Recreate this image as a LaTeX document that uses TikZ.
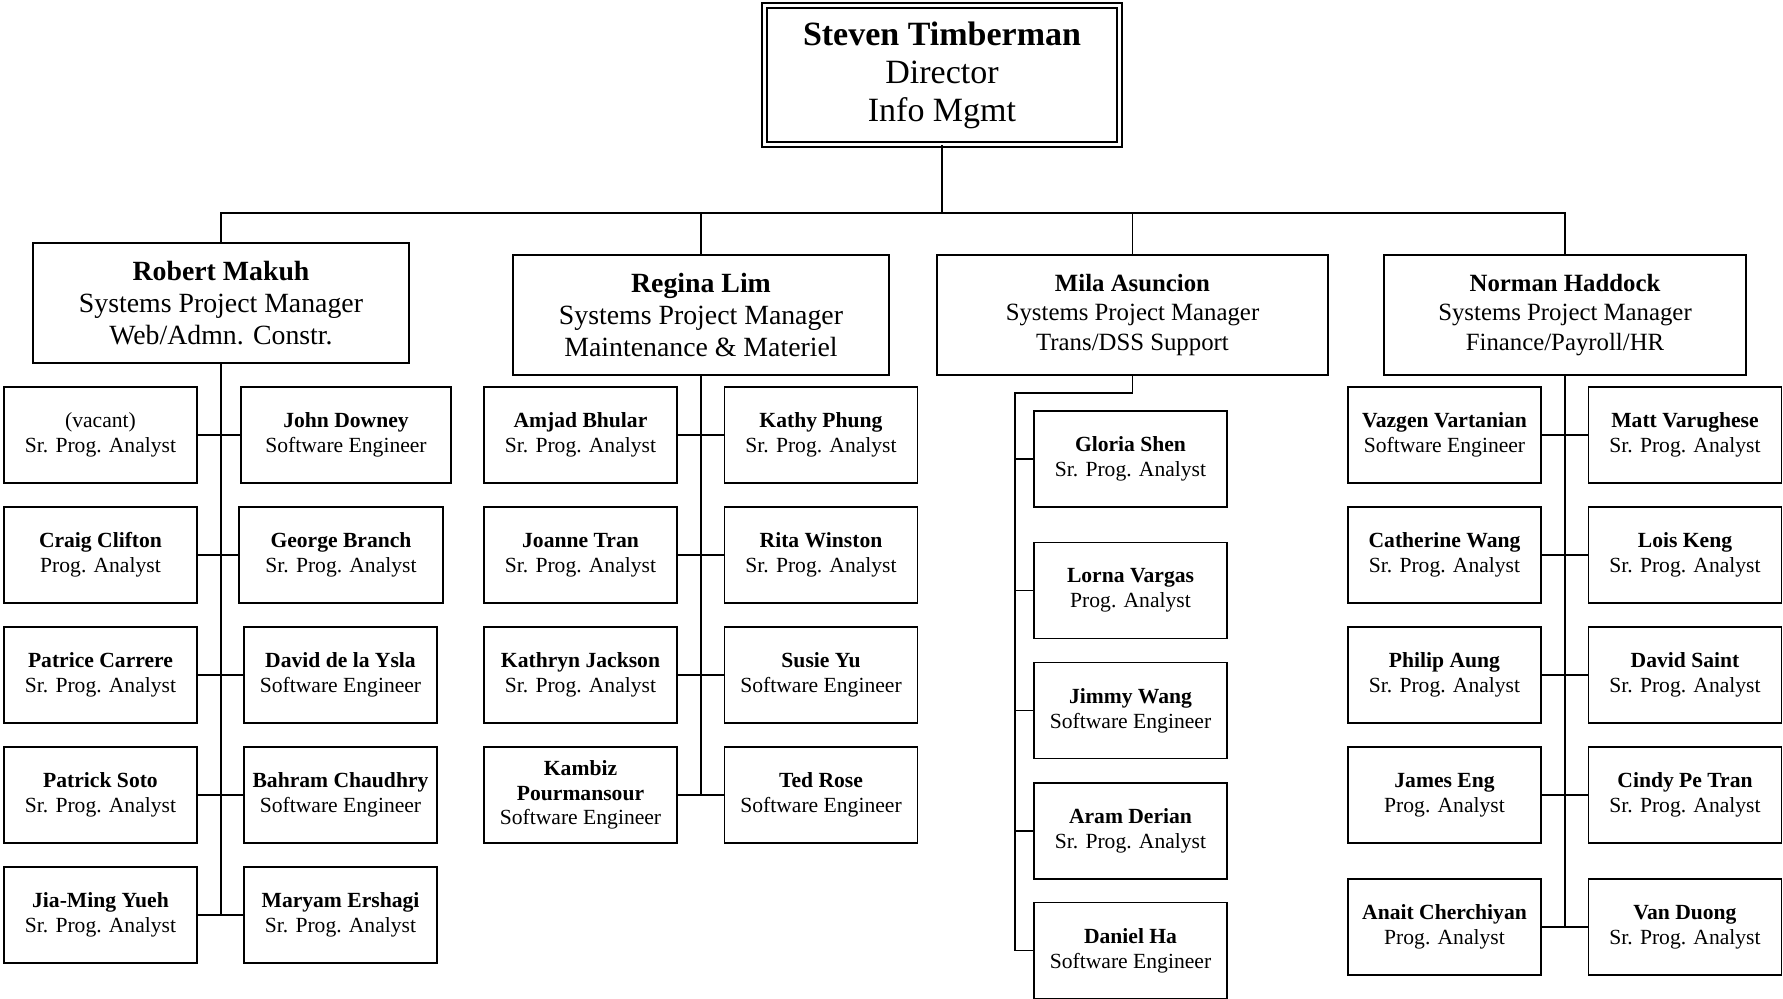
\documentclass[tikz,border=0pt]{standalone}
\usepackage{fontspec}
\setmainfont{Liberation Serif}
\usepackage{tikz}
\usetikzlibrary{positioning}

\tikzset{
  box/.style={rectangle,draw=black,fill=white,line width=0.65pt,align=center,inner sep=2pt},
  person/.style={box,minimum width=96.5pt,minimum height=48pt,font=\fontsize{10.8}{12.4}\selectfont},
  manager/.style={box,minimum height=60pt,font=\fontsize{13.9}{16}\selectfont},
  managersm/.style={manager,font=\fontsize{12.4}{14.8}\selectfont},
  director/.style={box,double,double distance=1.85pt,minimum width=177.5pt,minimum height=69.5pt,font=\fontsize{17}{19}\selectfont},
  link/.style={draw=black,line width=0.65pt}
}

\begin{document}
\begin{tikzpicture}[x=0.5pt,y=-0.5pt]
\useasboundingbox (0,0) rectangle (1783,999);
% top
\node[director] (timberman) at (942,75) {\textbf{Steven Timberman}\\Director\\Info Mgmt};
\coordinate (bus) at (942,213);
% managers
\node[manager,minimum width=188pt] (makuh) at (221,303) {\textbf{Robert Makuh}\\Systems Project Manager\\Web/Admn. Constr.};
\node[manager,minimum width=188pt] (lim) at (701,315) {\textbf{Regina Lim}\\Systems Project Manager\\Maintenance \& Materiel};
\node[managersm,minimum width=195.5pt] (asuncion) at (1132.5,315) {\textbf{Mila Asuncion}\\Systems Project Manager\\Trans/DSS Support};
\node[managersm,minimum width=181pt] (haddock) at (1565,315) {\textbf{Norman Haddock}\\Systems Project Manager\\Finance/Payroll/HR};
% Web/Admn. Constr.
\node[person] (vacant) at (100.5,435) {(vacant)\\Sr. Prog. Analyst};
\node[person] (clifton) at (100.5,555) {\textbf{Craig Clifton}\\Prog. Analyst};
\node[person] (carrere) at (100.5,675) {\textbf{Patrice Carrere}\\Sr. Prog. Analyst};
\node[person] (soto) at (100.5,795) {\textbf{Patrick Soto}\\Sr. Prog. Analyst};
\node[person] (yueh) at (100.5,915) {\textbf{Jia-Ming Yueh}\\Sr. Prog. Analyst};
\node[person,minimum width=105pt] (downey) at (346,435) {\textbf{John Downey}\\Software Engineer};
\node[person,minimum width=102pt] (branch) at (341,555) {\textbf{George Branch}\\Sr. Prog. Analyst};
\node[person] (ysla) at (340.5,675) {\textbf{David de la Ysla}\\Software Engineer};
\node[person] (chaudhry) at (340.5,795) {\textbf{Bahram Chaudhry}\\Software Engineer};
\node[person] (ershagi) at (340.5,915) {\textbf{Maryam Ershagi}\\Sr. Prog. Analyst};
% Maintenance & Materiel
\node[person] (bhular) at (580.5,435) {\textbf{Amjad Bhular}\\Sr. Prog. Analyst};
\node[person] (tran) at (580.5,555) {\textbf{Joanne Tran}\\Sr. Prog. Analyst};
\node[person] (jackson) at (580.5,675) {\textbf{Kathryn Jackson}\\Sr. Prog. Analyst};
\node[person] (pourmansour) at (580.5,795) {\textbf{Kambiz}\\\textbf{Pourmansour}\\Software Engineer};
\node[person] (phung) at (821,435) {\textbf{Kathy Phung}\\Sr. Prog. Analyst};
\node[person] (winston) at (821,555) {\textbf{Rita Winston}\\Sr. Prog. Analyst};
\node[person] (yu) at (821,675) {\textbf{Susie Yu}\\Software Engineer};
\node[person] (rose) at (821,795) {\textbf{Ted Rose}\\Software Engineer};
% Trans/DSS Support
\node[person] (shen) at (1130.5,459) {\textbf{Gloria Shen}\\Sr. Prog. Analyst};
\node[person] (vargas) at (1130.5,590.5) {\textbf{Lorna Vargas}\\Prog. Analyst};
\node[person] (jwang) at (1130.5,710.5) {\textbf{Jimmy Wang}\\Software Engineer};
\node[person] (derian) at (1130.5,831) {\textbf{Aram Derian}\\Sr. Prog. Analyst};
\node[person] (ha) at (1130.5,950.5) {\textbf{Daniel Ha}\\Software Engineer};
\coordinate (mbus) at (1015,393);
% Finance/Payroll/HR
\node[person] (vartanian) at (1444.5,435) {\textbf{Vazgen Vartanian}\\Software Engineer};
\node[person] (cwang) at (1444.5,555) {\textbf{Catherine Wang}\\Sr. Prog. Analyst};
\node[person] (aung) at (1444.5,675) {\textbf{Philip Aung}\\Sr. Prog. Analyst};
\node[person] (eng) at (1444.5,795) {\textbf{James Eng}\\Prog. Analyst};
\node[person] (cherchiyan) at (1444.5,927) {\textbf{Anait Cherchiyan}\\Prog. Analyst};
\node[person] (varughese) at (1685,435) {\textbf{Matt Varughese}\\Sr. Prog. Analyst};
\node[person] (keng) at (1685,555) {\textbf{Lois Keng}\\Sr. Prog. Analyst};
\node[person] (saint) at (1685,675) {\textbf{David Saint}\\Sr. Prog. Analyst};
\node[person] (petran) at (1685,795) {\textbf{Cindy Pe Tran}\\Sr. Prog. Analyst};
\node[person] (duong) at (1685,927) {\textbf{Van Duong}\\Sr. Prog. Analyst};
% connectors
\draw[link] (timberman.south) -- (bus);
\draw[link] (makuh.north) |- (bus) -| (haddock.north);
\draw[link] (lim.north) -- (lim.north |- bus);
\draw[link] (asuncion.north) -- (asuncion.north |- bus);
\draw[link] (makuh.south) -- (makuh.south |- yueh.east);
\draw[link] (lim.south) -- (lim.south |- pourmansour.east);
\draw[link] (haddock.south) -- (haddock.south |- cherchiyan.east);
\foreach \a/\b in {vacant/downey,clifton/branch,carrere/ysla,soto/chaudhry,yueh/ershagi,
  bhular/phung,tran/winston,jackson/yu,pourmansour/rose,
  vartanian/varughese,cwang/keng,aung/saint,eng/petran,cherchiyan/duong}
  \draw[link] (\a.east) -- (\b.west);
\draw[link] (asuncion.south) |- (mbus) |- (ha.west);
\foreach \p in {shen,vargas,jwang,derian}
  \draw[link] (\p.west) -- (\p.west -| mbus);
\end{tikzpicture}
\end{document}
